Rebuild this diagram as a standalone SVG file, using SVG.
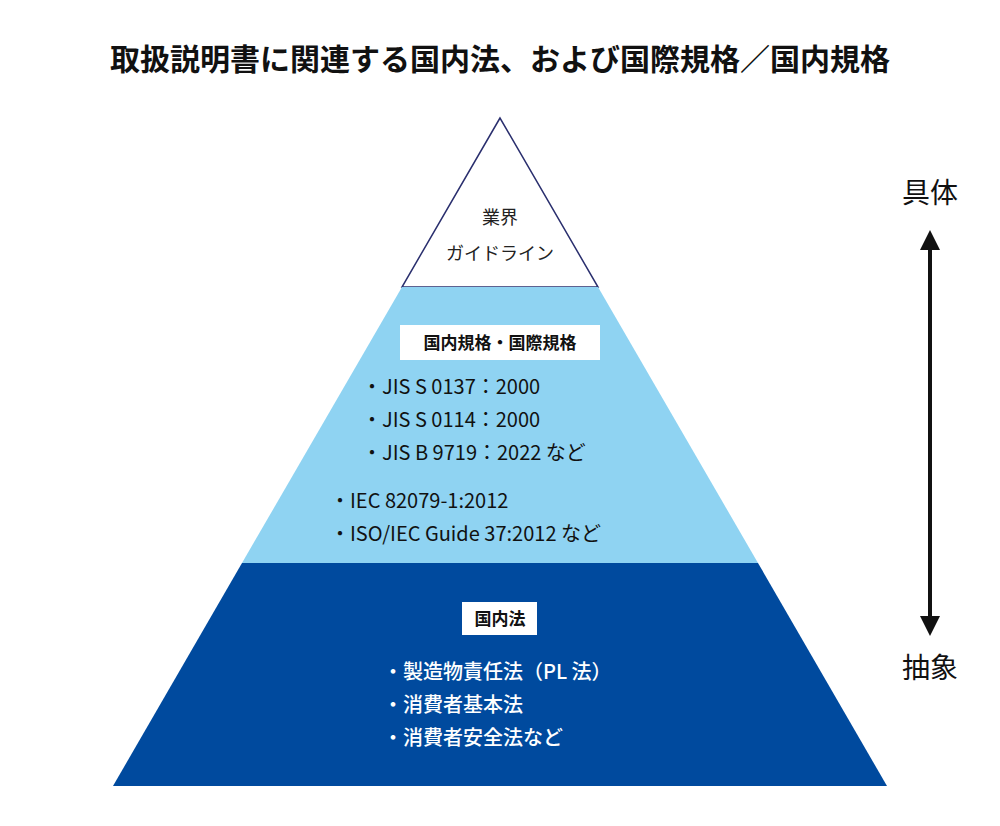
<svg xmlns="http://www.w3.org/2000/svg" width="1000" height="826" viewBox="0 0 1000 826">
<style>
text{font-family:"Noto Sans CJK JP","Noto Sans",sans-serif}
.t{font-size:18px;fill:#222}
.m{font-size:20px;fill:#111}
.w{font-size:20px;fill:#fff;font-weight:500}
.lb{font-size:17px;font-weight:700;fill:#111}
</style>
<defs><marker id="ah" viewBox="0 0 10 10" refX="5" refY="5" markerWidth="5" markerHeight="5" orient="auto-start-reverse"><path d="M0,0L10,5L0,10z" fill="#111"/></marker></defs>
<rect width="1000" height="826" fill="#fff"/>
<text x="500" y="70" text-anchor="middle" font-size="30" font-weight="700" fill="#111">取扱説明書に関連する国内法、および国際規格／国内規格</text>
<g id="top">
<polygon points="500,118 402,287 598,287" fill="#fff" stroke="#2a2f6e" stroke-width="1.5"/>
<text class="t" x="500" y="224" text-anchor="middle">業界</text>
<text class="t" x="500" y="260" text-anchor="middle">ガイドライン</text>
</g>
<g id="middle">
<polygon points="402,287 598,287 758,563 242,563" fill="#8fd3f2"/>
<rect x="400" y="325" width="200" height="35" fill="#fff"/>
<text class="lb" x="500" y="349" text-anchor="middle">国内規格・国際規格</text>
<text class="m" x="362" y="394">・JIS S 0137：2000</text>
<text class="m" x="362" y="427">・JIS S 0114：2000</text>
<text class="m" x="362" y="460">・JIS B 9719：2022 など</text>
<text class="m" x="330" y="508">・IEC 82079-1:2012</text>
<text class="m" x="330" y="541">・ISO/IEC Guide 37:2012 など</text>
</g>
<g id="bottom">
<polygon points="242,563 758,563 887,786 113,786" fill="#004a9e"/>
<rect x="462" y="602" width="75" height="33" fill="#fff"/>
<text class="lb" x="500" y="625" text-anchor="middle">国内法</text>
<text class="w" x="383" y="679">・製造物責任法（PL 法）</text>
<text class="w" x="383" y="712">・消費者基本法</text>
<text class="w" x="383" y="745">・消費者安全法など</text>
</g>
<g id="connectors">
<line x1="930" y1="240" x2="930" y2="626" stroke="#111" stroke-width="4" marker-start="url(#ah)" marker-end="url(#ah)"/>
</g>
<text x="930" y="203" text-anchor="middle" font-size="28" fill="#111">具体</text>
<text x="930" y="678" text-anchor="middle" font-size="28" fill="#111">抽象</text>
</svg>
